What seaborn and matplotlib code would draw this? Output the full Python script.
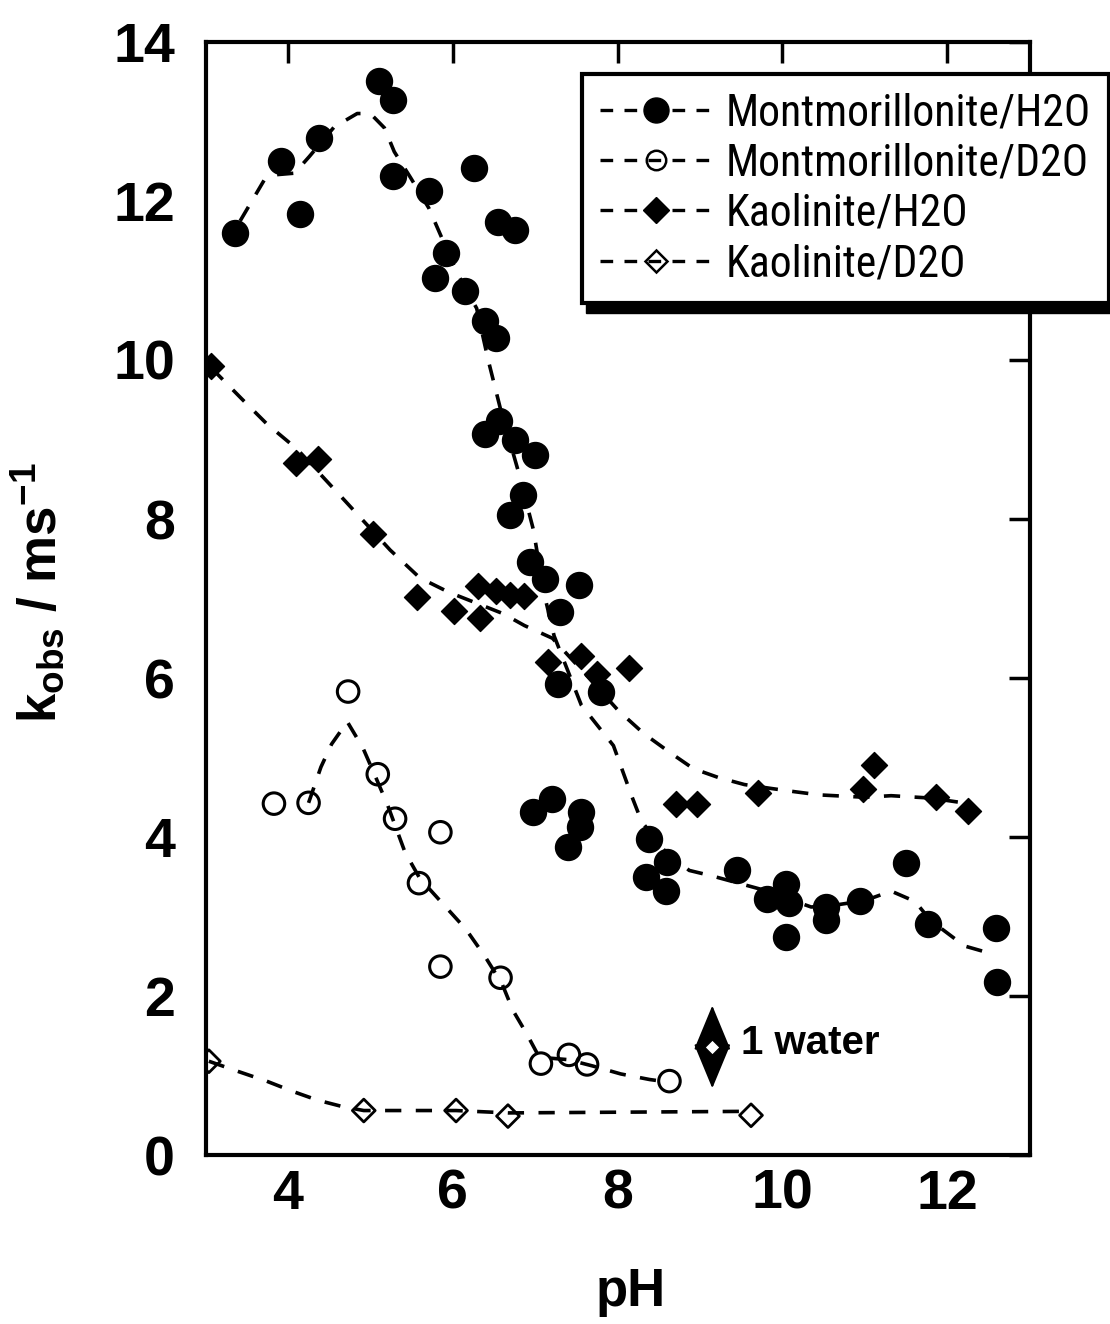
import numpy as np
import pandas as pd
import matplotlib
matplotlib.use("Agg")
import matplotlib.pyplot as plt
import seaborn as sns
from matplotlib.lines import Line2D
from matplotlib.patches import Rectangle
from matplotlib.transforms import IdentityTransform
from matplotlib import font_manager

# ---------------- data ----------------
mont_h2o_ph = [3.36, 3.92, 4.14, 4.38, 5.10, 5.27, 5.27, 5.71, 6.26, 5.92, 5.79, 6.15,
               6.55, 6.76, 6.39, 6.53, 6.39, 6.56, 6.76, 7.00, 6.85, 6.69, 6.94, 7.12,
               7.53, 7.30, 7.28, 7.80, 6.97, 7.21, 7.56, 7.55, 7.40, 8.38, 8.60, 8.34,
               8.59, 9.45, 9.81, 10.05, 10.08, 10.04, 10.53, 10.53, 10.94, 11.50, 11.77,
               12.59, 12.60]
mont_h2o_k = [11.60, 12.50, 11.83, 12.79, 13.51, 13.27, 12.32, 12.12, 12.41, 11.35, 11.03, 10.87,
              11.74, 11.63, 10.49, 10.28, 9.07, 9.23, 9.00, 8.80, 8.30, 8.05, 7.46, 7.25,
              7.17, 6.83, 5.92, 5.82, 4.32, 4.48, 4.31, 4.12, 3.87, 3.97, 3.68, 3.50,
              3.32, 3.59, 3.22, 3.41, 3.17, 2.74, 3.12, 2.96, 3.19, 3.67, 2.91,
              2.85, 2.18]

mont_d2o_ph = [3.83, 4.25, 4.73, 5.09, 5.30, 5.85, 5.59, 5.85, 6.58, 7.07, 7.41, 7.63, 8.63]
mont_d2o_k = [4.42, 4.43, 5.83, 4.79, 4.23, 4.06, 3.42, 2.37, 2.23, 1.15, 1.26, 1.14, 0.93]

kao_h2o_ph = [3.07, 4.10, 4.37, 5.03, 5.56, 6.01, 6.33, 6.31, 6.53, 6.69, 6.87, 7.15,
              7.56, 7.75, 8.14, 8.71, 8.96, 9.71, 11.11, 10.98, 11.86, 12.25]
kao_h2o_k = [9.92, 8.70, 8.76, 7.81, 7.02, 6.84, 6.75, 7.16, 7.09, 7.05, 7.03, 6.20,
             6.28, 6.05, 6.12, 4.41, 4.41, 4.55, 4.91, 4.60, 4.50, 4.33]

kao_d2o_ph = [3.04, 4.92, 6.04, 6.67, 9.62]
kao_d2o_k = [1.18, 0.56, 0.56, 0.49, 0.50]

# hand-drawn dashed trend curves
mont_h2o_fit_ph = [3.42, 3.71, 3.85, 4.08, 4.26, 4.56, 4.84, 5.00, 5.17, 5.29, 5.49, 5.71,
                   6.05, 6.29, 6.43, 6.58, 6.79, 6.98, 7.10, 7.23, 7.56, 7.95, 8.17, 8.29,
                   8.55, 8.87, 9.15, 9.75, 10.35, 10.68, 11.00, 11.32, 11.61, 11.80, 12.21, 12.58]
mont_h2o_fit_k = [11.75, 12.26, 12.33, 12.35, 12.56, 12.93, 13.10, 13.10, 12.92, 12.62, 12.29, 11.91,
                  11.10, 10.65, 10.00, 9.38, 8.62, 7.86, 7.10, 6.53, 5.66, 5.15, 4.52, 4.20,
                  3.85, 3.58, 3.51, 3.34, 3.12, 3.15, 3.20, 3.32, 3.19, 2.95, 2.63, 2.52]

mont_d2o_fit_ph = [4.25, 4.40, 4.53, 4.72, 4.91, 5.07, 5.21, 5.42, 5.60, 5.88, 6.16, 6.39,
                   6.60, 6.73, 6.90, 7.05, 7.40, 7.70, 8.04, 8.39, 8.60]
mont_d2o_fit_k = [4.43, 4.88, 5.17, 5.45, 5.12, 4.74, 4.40, 3.81, 3.48, 3.16, 2.84, 2.50,
                  2.15, 1.82, 1.52, 1.23, 1.20, 1.12, 1.02, 0.95, 0.92]

kao_h2o_fit_ph = [3.07, 3.44, 3.74, 4.11, 4.70, 5.24, 5.60, 5.95, 6.61, 6.87, 7.21, 7.60,
                  8.01, 8.32, 8.64, 8.92, 9.22, 9.54, 9.87, 10.15, 10.45, 11.00, 11.32,
                  11.80, 12.13]
kao_h2o_fit_k = [9.90, 9.51, 9.20, 8.88, 8.22, 7.61, 7.26, 7.08, 6.81, 6.66, 6.50, 6.06,
                 5.59, 5.30, 5.06, 4.86, 4.75, 4.66, 4.61, 4.57, 4.53, 4.50, 4.52,
                 4.49, 4.44]

kao_d2o_fit_ph = [3.04, 3.40, 3.74, 4.06, 4.36, 4.66, 4.92, 6.04, 6.67, 9.62]
kao_d2o_fit_k = [1.18, 1.05, 0.93, 0.80, 0.69, 0.61, 0.56, 0.56, 0.53, 0.55]

series_labels = ["Montmorillonite/H2O", "Montmorillonite/D2O", "Kaolinite/H2O", "Kaolinite/D2O"]
x_ticks = [4, 6, 8, 10, 12]
y_ticks = [0, 2, 4, 6, 8, 10, 12, 14]

# annotation "1 water" (data coordinates)
water_x = 9.15
water_top = 1.88
water_bottom = 0.84
water_text = "1 water"

# ---------------- style ----------------
sns.set_theme(style="white")
plt.rcParams["font.family"] = ["Liberation Sans", "DejaVu Sans"]
plt.rcParams["mathtext.fontset"] = "custom"
plt.rcParams["mathtext.rm"] = "Liberation Sans:bold"
plt.rcParams["mathtext.it"] = "Liberation Sans:bold"
plt.rcParams["mathtext.default"] = "regular"
plt.rcParams["text.color"] = "black"
plt.rcParams["axes.labelcolor"] = "black"


def pick_legend_font():
    """Prefer a condensed sans face for the legend (as in the reference)."""
    candidates = [
        (dict(family="Liberation Sans Narrow"), 34, "narrow"),
        (dict(family="Noto Sans", stretch="condensed"), 31.5, "condensed"),
        (dict(family="Noto Sans Condensed"), 31.5, "condensed"),
        (dict(family="Roboto Condensed"), 31.5, "condensed"),
    ]
    for props, size, key in candidates:
        try:
            fp = font_manager.FontProperties(**props)
            path = font_manager.findfont(fp, fallback_to_default=False)
            if key in path.lower().replace("-", "").replace("_", ""):
                return fp, size
        except Exception:
            pass
    return font_manager.FontProperties(family=["Liberation Sans", "DejaVu Sans"]), 28.5


fig = plt.figure(figsize=(11.1, 13.24), dpi=100)
fig.patch.set_facecolor("white")
ax = fig.add_axes([0.1852, 0.1276, 0.7423, 0.8407])
ax.set_facecolor("white")

dash = (0, (4.5, 4))
lw = 2.6
fits = [(mont_h2o_fit_ph, mont_h2o_fit_k), (mont_d2o_fit_ph, mont_d2o_fit_k),
        (kao_h2o_fit_ph, kao_h2o_fit_k), (kao_d2o_fit_ph, kao_d2o_fit_k)]
for fx, fy in fits:
    sns.lineplot(x=fx, y=fy, ax=ax, color="black", lw=lw, linestyle=dash,
                 sort=False, estimator=None, legend=False, zorder=2)

# data points
sns.scatterplot(x=mont_h2o_ph, y=mont_h2o_k, ax=ax, marker="o", s=350,
                color="black", edgecolor="black", linewidth=1, zorder=3, legend=False)
sns.scatterplot(x=kao_h2o_ph, y=kao_h2o_k, ax=ax, marker="D", s=175,
                color="black", edgecolor="black", linewidth=1, zorder=3, legend=False)
sns.scatterplot(x=mont_d2o_ph, y=mont_d2o_k, ax=ax, marker="o", s=240,
                color="black", facecolor="none", edgecolor="black", linewidth=2.2,
                zorder=3, legend=False)
sns.scatterplot(x=kao_d2o_ph, y=kao_d2o_k, ax=ax, marker="D", s=135,
                color="black", facecolor="none", edgecolor="black", linewidth=2.0,
                zorder=3, legend=False)

# "1 water" double arrow
ax.annotate("", xy=(water_x, water_top), xytext=(water_x, water_bottom),
            arrowprops=dict(arrowstyle="<|-|>,head_length=1.45,head_width=0.6",
                            color="black", lw=1.5, mutation_scale=20,
                            shrinkA=0, shrinkB=0), zorder=4)
ax.scatter([water_x], [(water_top + water_bottom) / 2], marker="D", s=60,
           facecolor="white", edgecolor="black", linewidth=1.0, zorder=5)
ax.text(water_x + 0.35, (water_top + water_bottom) / 2 + 0.05, water_text,
        fontsize=29, fontweight="bold", ha="left", va="center", color="black")

# axes
ax.set_xlim(3, 13)
ax.set_ylim(0, 14)
ax.set_xticks(x_ticks)
ax.set_yticks(y_ticks)
ax.set_xticklabels([str(t) for t in x_ticks], fontweight="bold")
ax.set_yticklabels([str(t) for t in y_ticks], fontweight="bold")
for sp in ax.spines.values():
    sp.set_visible(True)
    sp.set_linewidth(3)
    sp.set_color("black")
ax.tick_params(direction="in", length=15, width=2.5, top=True, right=True,
               labelsize=40, colors="black")
ax.tick_params(axis="x", pad=10)
ax.tick_params(axis="y", pad=22)

ax.set_xlabel("pH", fontsize=38, fontweight="bold")
ax.set_ylabel(r"k$_{\mathregular{obs}}$ / ms$^{\mathregular{-1}}$", fontsize=38,
              fontweight="bold")
ax.xaxis.set_label_coords(0.516, -0.101)
ax.yaxis.set_label_coords(-0.168, 0.505)

# legend
hl = dict(color="black", lw=2.4, ls=(0, (3.8, 3.4)))
handles = [
    Line2D([], [], marker="o", ms=18, mfc="black", mec="black", **hl),
    Line2D([], [], marker="o", ms=14, mfc="none", mec="black", mew=1.8, **hl),
    Line2D([], [], marker="D", ms=13, mfc="black", mec="black", **hl),
    Line2D([], [], marker="D", ms=11, mfc="none", mec="black", mew=1.8, **hl),
]
leg_fp, leg_size = pick_legend_font()
leg_fp.set_size(leg_size)
em = leg_size * 100 / 72.0
leg = ax.legend(handles, series_labels, loc="upper left", bbox_to_anchor=(0.457, 0.971),
                borderaxespad=0, frameon=True, fancybox=False, edgecolor="black",
                framealpha=1, facecolor="white", prop=leg_fp,
                handlelength=112 / em, handletextpad=14 / em, borderpad=18 / em,
                labelspacing=max(0.05, (59 - 1.16 * em) / em),
                numpoints=1)
leg.get_frame().set_linewidth(3)
leg.set_zorder(6)

fig.canvas.draw()
bb = leg.get_window_extent()
shadow = Rectangle((bb.x0 + 4, bb.y0 - 10), bb.width, bb.height,
                   transform=IdentityTransform(), facecolor="black", edgecolor="black",
                   zorder=5.9, clip_on=False)
ax.add_artist(shadow)

fig.savefig("out.png", dpi=100, facecolor="white")
